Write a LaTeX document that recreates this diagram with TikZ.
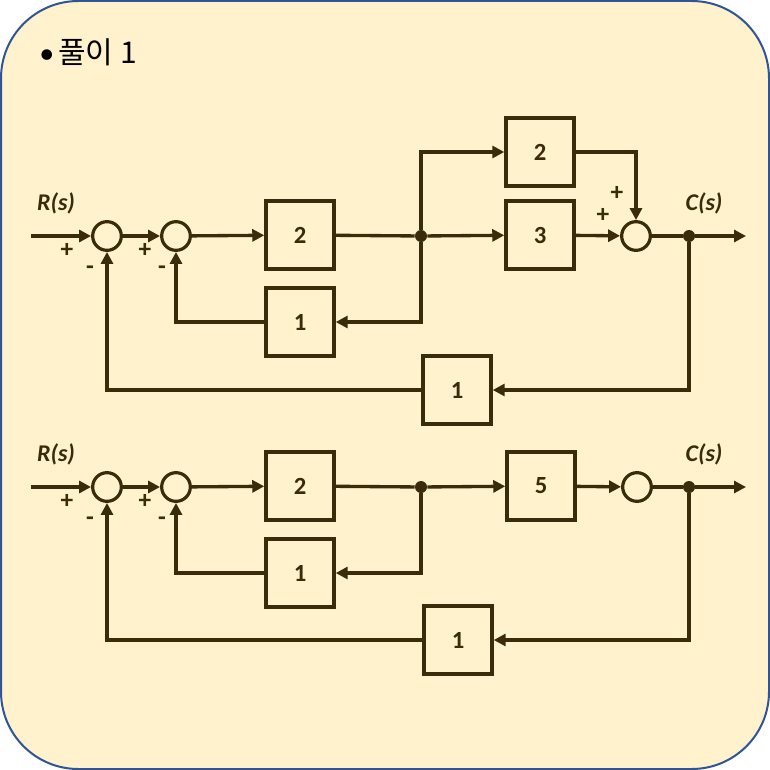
\documentclass[tikz,border=0pt]{standalone}
\usepackage{fontspec}
\setmainfont{Carlito}
\newfontfamily\krfont{Noto Sans CJK KR}
\usetikzlibrary{positioning, arrows.meta, calc}
\definecolor{paper}{HTML}{FFF2CC}
\definecolor{frame}{HTML}{2F5597}
\definecolor{ink}{HTML}{3A2B0B}

\begin{document}
\begin{tikzpicture}[x=0.75pt, y=-0.75pt, >={Triangle[length=9pt, width=9pt]},
	font=\fontsize{18.5}{20}\selectfont\bfseries,
	blk/.style={draw=ink, line width=2.6pt, minimum width=51pt, minimum height=51pt, inner sep=0pt, text=ink},
	sum/.style={draw=ink, circle, line width=2.4pt, minimum size=21.5pt, inner sep=0pt},
	dot/.style={circle, fill=ink, minimum size=9pt, inner sep=0pt},
	sig/.style={text=ink, font=\fontsize{19}{20}\selectfont\bfseries},
	lbl/.style={text=ink, font=\fontsize{18}{20}\selectfont\bfseries\itshape},
	wire/.style={draw=ink, line width=2.5pt}]
	\useasboundingbox (0,0) rectangle (770,770);
	\draw[frame, fill=paper, line width=1.5pt, rounded corners=58pt] (1,1) rectangle (769,769);
	\node[anchor=west, inner sep=0pt, font=\fontsize{22.5}{24}\selectfont\krfont] (title) at (39,52) {{\mdseries\rmfamily\textbullet}\hspace{3pt}풀이 1};

	\coordinate (inA) at (31,236);
	\node[sum] (sA1) at (107,236) {};
	\node[sum] (sA2) at (176,236) {};
	\node[blk] (gA1) at (300,235) {2};
	\node[dot] (dA1) at (421,236) {};
	\node[blk] (gA2) at (540,152) {2};
	\node[blk] (gA3) at (540,235) {3};
	\node[sum] (sA3) at (636,236) {};
	\node[dot] (dA2) at (689,236) {};
	\coordinate (outA) at (746,236);
	\node[blk] (hA1) at (300,322) {1};
	\node[blk] (hA2) at (457,390) {1};
	\draw[wire, ->] (inA) -- (sA1);
	\draw[wire, ->] (sA1) -- (sA2);
	\draw[wire, ->] (sA2) -- (gA1);
	\draw[wire] (gA1) -- (dA1);
	\draw[wire, ->] (dA1) -- (gA3);
	\draw[wire, ->] (dA1) |- (gA2);
	\draw[wire, ->] (gA2) -| (sA3);
	\draw[wire, ->] (gA3) -- (sA3);
	\draw[wire] (sA3) -- (dA2);
	\draw[wire, ->] (dA2) -- (outA);
	\draw[wire, ->] (dA1) |- (hA1);
	\draw[wire, ->] (hA1) -| (sA2);
	\draw[wire, ->] (dA2) |- (hA2);
	\draw[wire, ->] (hA2) -| (sA1);
	\node[lbl] (rA) at (56,203) {R(s)};
	\node[lbl] (cA) at (704,203) {C(s)};
	\node[sig] at (67,250) {+};
	\node[sig] at (90,270) {-};
	\node[sig] at (145,250) {+};
	\node[sig] at (162,270) {-};
	\node[sig] at (617,193) {+};
	\node[sig] at (603,215) {+};

	\coordinate (inB) at (31,487);
	\node[sum] (sB1) at (107,487) {};
	\node[sum] (sB2) at (176,487) {};
	\node[blk] (gB1) at (300,486) {2};
	\node[dot] (dB1) at (421,487) {};
	\node[blk] (gB3) at (541,486) {5};
	\node[sum] (sB3) at (637,487) {};
	\node[dot] (dB2) at (689,487) {};
	\coordinate (outB) at (746,487);
	\node[blk] (hB1) at (300,573) {1};
	\node[blk] (hB2) at (458,640) {1};
	\draw[wire, ->] (inB) -- (sB1);
	\draw[wire, ->] (sB1) -- (sB2);
	\draw[wire, ->] (sB2) -- (gB1);
	\draw[wire] (gB1) -- (dB1);
	\draw[wire, ->] (dB1) -- (gB3);
	\draw[wire, ->] (gB3) -- (sB3);
	\draw[wire] (sB3) -- (dB2);
	\draw[wire, ->] (dB2) -- (outB);
	\draw[wire, ->] (dB1) |- (hB1);
	\draw[wire, ->] (hB1) -| (sB2);
	\draw[wire, ->] (dB2) |- (hB2);
	\draw[wire, ->] (hB2) -| (sB1);
	\node[lbl] (rB) at (56,454) {R(s)};
	\node[lbl] (cB) at (704,454) {C(s)};
	\node[sig] at (67,501) {+};
	\node[sig] at (90,521) {-};
	\node[sig] at (145,501) {+};
	\node[sig] at (162,521) {-};
\end{tikzpicture}
\end{document}
